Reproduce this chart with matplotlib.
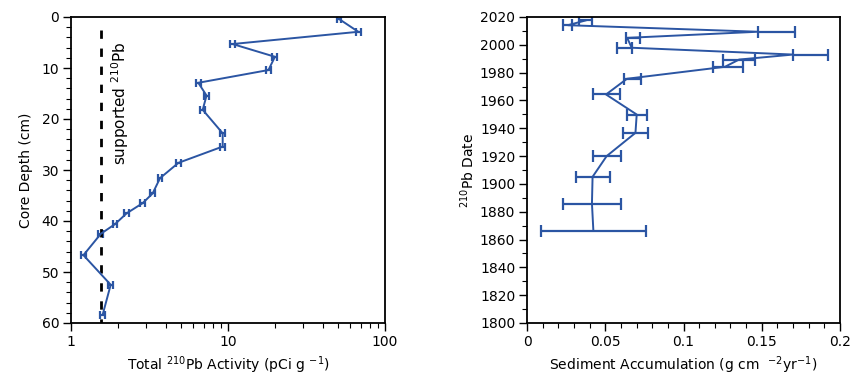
import matplotlib
matplotlib.use("Agg")
import matplotlib.pyplot as plt
from matplotlib.ticker import MultipleLocator, NullFormatter, FuncFormatter

plt.rcParams['font.family'] = ['DejaVu Sans']
plt.rcParams['mathtext.default'] = 'regular'

# ---- Left panel: total 210Pb activity vs depth ----
depth_cm = [0.4, 2.9, 5.3, 7.8, 10.4, 12.9, 15.4, 18.2, 22.8, 25.4,
            28.6, 31.6, 34.6, 36.5, 38.5, 40.6, 42.5, 46.7, 52.5, 58.4]
activity = [51.0, 67.6, 10.7, 19.9, 18.1, 6.47, 7.3, 6.9, 9.25, 9.25,
            4.83, 3.69, 3.31, 2.86, 2.26, 1.91, 1.55, 1.20, 1.79, 1.59]
activity_rel_err = [0.035] * len(activity)
supported_level = 1.55
supported_depth = [2.5, 60]

# ---- Right panel: sediment accumulation vs 210Pb date ----
pb_date = [2017.5, 2014.1, 2009.4, 2005.0, 1997.9, 1993.0, 1989.4, 1984.2,
           1975.6, 1964.3, 1949.9, 1936.7, 1920.0, 1905.1, 1885.9, 1866.5]
accum = [0.0374, 0.0261, 0.1476, 0.0640, 0.0669, 0.1700, 0.1355, 0.1265,
         0.0639, 0.0505, 0.0701, 0.0693, 0.0509, 0.0419, 0.0415, 0.0424]
accum_err_lo = [0.0040, 0.0029, 0.0000, 0.0010, 0.0096, 0.0000, 0.0102, 0.0075,
                0.0022, 0.0085, 0.0064, 0.0078, 0.0090, 0.0109, 0.0184, 0.0337]
accum_err_hi = [0.0040, 0.0029, 0.0236, 0.0080, 0.0000, 0.0224, 0.0102, 0.0113,
                0.0089, 0.0090, 0.0064, 0.0078, 0.0090, 0.0109, 0.0184, 0.0337]

blue = '#2B55A3'
W, H = 850, 381
fig = plt.figure(figsize=(W / 100, H / 100), dpi=100)

def frac(x0, y0, x1, y1):
    return [x0 / W, 1 - y1 / H, (x1 - x0) / W, (y1 - y0) / H]

ax1 = fig.add_axes(frac(71, 17, 385, 323))
ax2 = fig.add_axes(frac(527, 17, 840, 323))

# Left
xerr = [a * e for a, e in zip(activity, activity_rel_err)]
ax1.errorbar(activity, depth_cm, xerr=[xerr, xerr], color=blue, lw=1.4,
             elinewidth=1.6, capsize=3, capthick=1.6)
ax1.plot([supported_level, supported_level], supported_depth, color='black',
         lw=2.0, dashes=(3, 3.5))
ax1.text(2.05, 16.9, 'supported $^{210}$Pb', rotation=90, ha='center', va='center',
         fontsize=11)
ax1.set_xscale('log')
ax1.set_xlim(1, 100)
ax1.set_ylim(60, 0)
ax1.yaxis.set_major_locator(MultipleLocator(10))
ax1.yaxis.set_minor_locator(MultipleLocator(2))
ax1.xaxis.set_major_formatter(FuncFormatter(lambda v, p: f'{v:g}'))
ax1.xaxis.set_minor_formatter(NullFormatter())
ax1.set_xlabel('Total $^{210}$Pb Activity (pCi g $^{-1}$)', fontsize=10, labelpad=4)
ax1.set_ylabel('Core Depth (cm)', fontsize=10, labelpad=6)

# Right
ax2.errorbar(accum, pb_date, xerr=[accum_err_lo, accum_err_hi], color=blue, lw=1.4,
             elinewidth=1.6, capsize=4, capthick=1.6)
ax2.set_xlim(0, 0.2)
ax2.set_ylim(1800, 2020)
ax2.xaxis.set_major_locator(MultipleLocator(0.05))
ax2.xaxis.set_minor_locator(MultipleLocator(0.01))
ax2.xaxis.set_major_formatter(FuncFormatter(lambda v, p: f'{v:g}'))
ax2.yaxis.set_major_locator(MultipleLocator(20))
ax2.yaxis.set_minor_locator(MultipleLocator(10))
ax2.set_xlabel('Sediment Accumulation (g cm  $^{-2}$yr$^{-1}$)', fontsize=10, labelpad=4)
ax2.set_ylabel('$^{210}$Pb Date', fontsize=10, labelpad=2)

for ax in (ax1, ax2):
    for s in ax.spines.values():
        s.set_linewidth(1.3)
    ax.tick_params(which='major', direction='out', length=6, width=1.0,
                   labelsize=10, top=False, right=False, pad=2.5)
    ax.tick_params(which='minor', direction='out', length=3.5, width=0.8,
                   top=False, right=False)

fig.savefig('out.png', dpi=100)
